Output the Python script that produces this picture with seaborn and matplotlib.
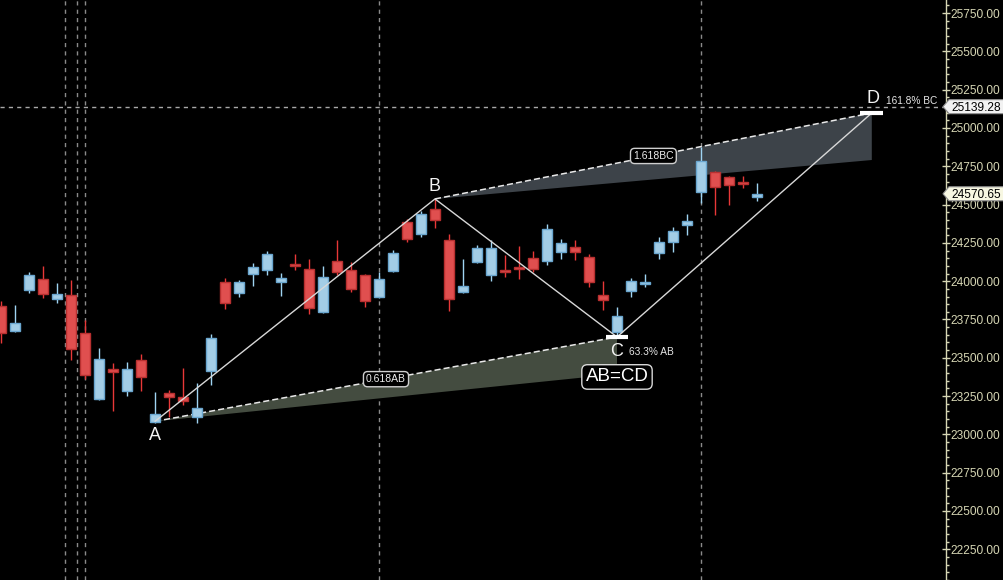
import numpy as np
import matplotlib
matplotlib.use("Agg")
import matplotlib.pyplot as plt
import seaborn as sns
from matplotlib.patches import Polygon
from matplotlib.ticker import MultipleLocator, FormatStrFormatter

# candle data (one bar per session)
opens = [23838, 23675, 23943, 24014, 23884, 23910, 23662, 23231, 23427, 23283,
         23486, 23081, 23270, 23244, 23114, 23414, 23995, 23923, 24047, 24073,
         23995, 24112, 24080, 23799, 24132, 24073, 24041, 23897, 24067, 24386,
         24308, 24471, 24269, 23930, 24125, 24041, 24073, 24093, 24151, 24132,
         24191, 24223, 24158, 23910, 23668, 23936, 23982, 24184, 24256, 24367,
         24582, 24713, 24680, 24648, 24550]
highs = [23871, 23845, 24060, 24099, 23988, 24008, 23747, 23564, 23466, 23473,
         23525, 23277, 23290, 23434, 23336, 23655, 24021, 24008, 24119, 24197,
         24054, 24178, 24145, 24099, 24269, 24125, 24047, 24060, 24204, 24406,
         24458, 24537, 24308, 24145, 24236, 24269, 24171, 24230, 24197, 24373,
         24276, 24269, 24178, 24001, 23832, 24021, 24047, 24289, 24354, 24439,
         24876, 24720, 24687, 24687, 24641]
lows = [23597, 23670, 23923, 23890, 23858, 23486, 23362, 23225, 23153, 23251,
        23283, 23075, 23114, 23192, 23075, 23323, 23819, 23897, 23969, 24041,
        23903, 24073, 23786, 23792, 24041, 23930, 23832, 23890, 24060, 24256,
        24289, 24347, 23806, 23925, 24119, 24001, 24027, 24014, 24060, 24106,
        24145, 24138, 23962, 23812, 23636, 23897, 23962, 24145, 24191, 24302,
        24510, 24432, 24497, 24608, 24524]
closes = [23662, 23727, 24041, 23917, 23917, 23558, 23388, 23492, 23407, 23427,
          23375, 23133, 23244, 23218, 23172, 23629, 23858, 23995, 24093, 24178,
          24021, 24099, 23825, 24027, 24060, 23949, 23871, 24014, 24184, 24275,
          24439, 24400, 23884, 23969, 24217, 24217, 24060, 24080, 24080, 24341,
          24249, 24191, 23995, 23877, 23773, 24001, 23995, 24256, 24328, 24393,
          24785, 24615, 24628, 24636, 24570.65]

# AB=CD pattern points (bar index, price)
pattern_names = ["A", "B", "C", "D"]
pattern_idx = [11, 31, 44, 62.2]
pattern_price = [23085, 24537, 23636, 25098]
ab_zone_low = 23394      # lower edge of the 0.618AB projection at C
bc_zone_low = 24791      # lower edge of the 1.618BC projection at D

separators = [4.57, 5.43, 6, 27, 50]
crosshair_price = 25139.28
last_price = 24570.65

y_min, y_max = 22049.5, 25835.5
x_min, x_max = -0.0714, 67.5

# colours
bg = "black"
up_body, up_edge, up_wick = "#a3cde6", "#6aa6cf", "#9fd4f2"
dn_body, dn_edge, dn_wick = "#e04f4f", "#b83030", "#e83838"
axis_col = "#d6d6b4"
line_col = "#d8d8d8"

sns.set_theme(style="dark", rc={"axes.facecolor": bg, "figure.facecolor": bg,
                                "savefig.facecolor": bg})
plt.rcParams["font.family"] = ["Liberation Sans", "DejaVu Sans"]

fig = plt.figure(figsize=(10.04, 5.8), dpi=100)
ax = fig.add_axes([0, 0, 946 / 1004, 1])
ax.set_facecolor(bg)
ax.set_xlim(x_min, x_max)
ax.set_ylim(y_min, y_max)

idx = np.arange(len(opens))
o = np.array(opens); h = np.array(highs); l = np.array(lows); c = np.array(closes)
up = c >= o

# separators and crosshair
for s in separators:
    ax.axvline(s, color="#8a8a8a", lw=1, ls=(0, (3, 3)), zorder=1)
ax.axhline(crosshair_price, color="#a8a8a8", lw=1, ls=(0, (3, 3)), zorder=1)

# projection zones
A, B, C, D = [(x, y) for x, y in zip(pattern_idx, pattern_price)]
ax.add_patch(Polygon([A, C, (C[0], ab_zone_low)], closed=True,
                     facecolor="#444c40", edgecolor="none", zorder=2))
ax.add_patch(Polygon([B, D, (D[0], bc_zone_low)], closed=True,
                     facecolor="#3d4349", edgecolor="none", zorder=2))
ax.plot([A[0], C[0]], [A[1], C[1]], color="#e8e8e8", lw=1.1, ls=(0, (4, 2)), zorder=3)
ax.plot([B[0], D[0]], [B[1], D[1]], color="#e8e8e8", lw=1.1, ls=(0, (4, 2)), zorder=3)

# candles
ax.vlines(idx[up], l[up], h[up], color=up_wick, lw=1, zorder=4)
ax.vlines(idx[~up], l[~up], h[~up], color=dn_wick, lw=1, zorder=4)
body_lo = np.minimum(o, c)
body_h = np.maximum(np.abs(c - o), 8)
ax.bar(idx[up], body_h[up], bottom=body_lo[up], width=0.7, color=up_body,
       edgecolor=up_edge, lw=1, zorder=5)
ax.bar(idx[~up], body_h[~up], bottom=body_lo[~up], width=0.7, color=dn_body,
       edgecolor=dn_edge, lw=1, zorder=5)

# pattern legs
sns.lineplot(x=pattern_idx, y=pattern_price, ax=ax, color=line_col, lw=1,
             sort=False, zorder=6)
for px, pp in (C, D):
    ax.plot([px - 0.82, px + 0.82], [pp, pp], color="white", lw=3,
            solid_capstyle="butt", zorder=7)

# point labels
label_offsets = [(0, -14), (0, 12), (0, -15), (1, 14)]
for name, px, pp, off in zip(pattern_names, pattern_idx, pattern_price, label_offsets):
    ax.annotate(name, (px, pp), xytext=off, textcoords="offset pixels",
                ha="center", va="center", fontsize=13, color="#f2f2f2", zorder=8)

ax.annotate("63.3% AB", C, xytext=(12, -15), textcoords="offset pixels",
            ha="left", va="center", fontsize=7.3, color="#e6e6e6", zorder=8)
ax.annotate("161.8% BC", D, xytext=(14, 12), textcoords="offset pixels",
            ha="left", va="center", fontsize=7.3, color="#e6e6e6", zorder=8)

box = dict(boxstyle="round,pad=0.25,rounding_size=0.4", fc="black",
           ec="#cfcfcf", lw=1)
ax.text((A[0] + C[0]) / 2, (A[1] + C[1]) / 2, "0.618AB", ha="center",
        va="center", fontsize=7.5, color="#eeeeee", bbox=box, zorder=9)
ax.text((B[0] + D[0]) / 2, (B[1] + D[1]) / 2, "1.618BC", ha="center",
        va="center", fontsize=7.5, color="#eeeeee", bbox=box, zorder=9)
ax.annotate("AB=CD", C, xytext=(0, -40), textcoords="offset pixels",
            ha="center", va="center", fontsize=13.5, color="white", zorder=9,
            bbox=dict(boxstyle="round,pad=0.2,rounding_size=0.3", fc="black",
                      ec="#d8d8d8", lw=1))

# right price axis
for side in ["top", "left", "bottom"]:
    ax.spines[side].set_visible(False)
ax.spines["right"].set_visible(True)
ax.spines["right"].set_color(axis_col)
ax.spines["right"].set_linewidth(1)
ax.set_xticks([])
ax.yaxis.tick_right()
ax.yaxis.set_major_locator(MultipleLocator(250))
ax.yaxis.set_minor_locator(MultipleLocator(50))
ax.yaxis.set_major_formatter(FormatStrFormatter("%.2f"))
ax.tick_params(axis="y", which="major", direction="inout", length=6, width=1,
               color=axis_col, labelcolor=axis_col, labelsize=8.6, pad=0.5,
               right=True)
ax.tick_params(axis="y", which="minor", direction="out", length=2.4, width=1,
               color=axis_col, right=True)
ax.grid(False)

# price tags on the axis
W, H = 1004, 580
def price_tag(price, fc):
    yf = (price - y_min) / (y_max - y_min)
    hh = 7 / H
    pts = [(943 / W, yf), (949 / W, yf + hh), (1.0, yf + hh), (1.0, yf - hh),
           (949 / W, yf - hh)]
    fig.patches.append(Polygon(pts, closed=True, transform=fig.transFigure,
                               fc=fc, ec="#909090", lw=0.8, zorder=10))
    fig.text(951 / W, yf, f"{price:.2f}", ha="left", va="center_baseline",
             fontsize=8.6, color="black", zorder=11)

price_tag(crosshair_price, "#f2f2f2")
price_tag(last_price, "#f7f7e2")

fig.savefig("out.png", dpi=100, facecolor=bg)
